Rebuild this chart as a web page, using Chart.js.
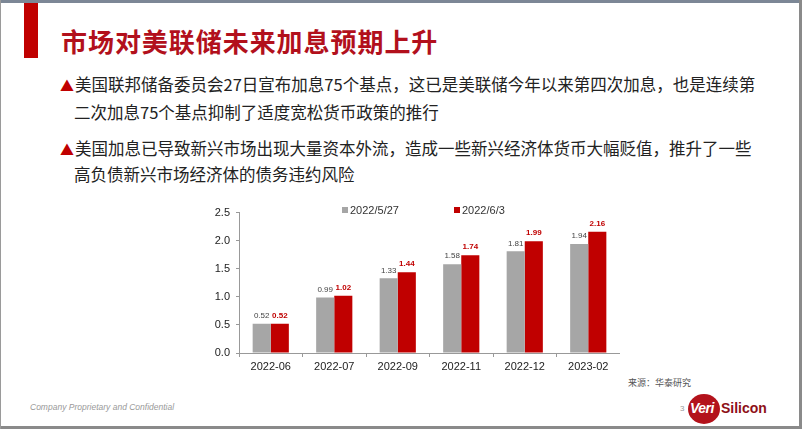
<!DOCTYPE html>
<html><head><meta charset="utf-8">
<script src="https://cdn.jsdelivr.net/npm/chart.js@4/dist/chart.umd.min.js"></script>
<style>
html,body{margin:0;padding:0;background:#fff;}
#slide{position:relative;width:802px;height:429px;overflow:hidden;background:#fff;font-family:"Noto Sans CJK SC","Noto Sans",sans-serif;}
.frameT{position:absolute;left:0;top:0;width:802px;height:3px;background:#7c8796;}
.frameB{position:absolute;left:0;top:426px;width:802px;height:3px;background:#8a8a8a;}
.frameL{position:absolute;left:0;top:0;width:1px;height:429px;background:#9a9a9a;}
.frameR{position:absolute;left:799px;top:0;width:3px;height:429px;background:#8a8a8a;}
.redbar{position:absolute;left:24px;top:3px;width:14px;height:55px;background:#c00000;}
.title{position:absolute;left:61px;top:22px;font-size:26px;font-weight:bold;color:#b2101c;letter-spacing:0.95px;white-space:nowrap;}
.line{position:absolute;font-size:16.5px;color:#222;white-space:nowrap;line-height:20px;}
.tri{color:#c00000;font-size:14px;margin-right:1px;}
#chartbox{position:absolute;left:180px;top:200px;width:440px;height:180px;}
.leg{position:absolute;font-family:"Liberation Sans",Arial,sans-serif;font-size:11px;color:#333;white-space:nowrap;}
.sq{display:inline-block;width:6px;height:6px;margin-right:2px;vertical-align:1px;}
.src{position:absolute;left:628px;top:376px;font-size:9px;color:#555;}
.conf{position:absolute;left:30px;top:402px;font-family:"Liberation Sans",Arial,sans-serif;font-size:8.5px;font-style:italic;color:#999;}
.pg{position:absolute;left:680px;top:404px;font-family:"Liberation Sans",Arial,sans-serif;font-size:8px;color:#999;}
.logo{position:absolute;left:688px;top:391px;width:80px;height:34px;}
.circ{position:absolute;left:0;top:3px;width:32px;height:30px;border-radius:50%;background:#b3121b;}
.veri{position:absolute;left:2px;top:9px;font-family:"Liberation Sans",Arial,sans-serif;font-weight:bold;font-size:14px;color:#fff;font-style:italic;letter-spacing:-0.5px;}
.sil{position:absolute;left:33px;top:9px;font-family:"Liberation Sans",Arial,sans-serif;font-weight:bold;font-size:14px;color:#8e1018;}
</style></head>
<body>
<div id="slide">
  <div class="frameT"></div><div class="frameB"></div><div class="frameL"></div><div class="frameR"></div>
  <div class="redbar"></div>
  <div class="title">市场对美联储未来加息预期上升</div>
  <div class="line" style="left:60px;top:74px;"><span class="tri">▲</span>美国联邦储备委员会27日宣布加息75个基点，这已是美联储今年以来第四次加息，也是连续第</div>
  <div class="line" style="left:74px;top:102px;">二次加息75个基点抑制了适度宽松货币政策的推行</div>
  <div class="line" style="left:60px;top:138px;"><span class="tri">▲</span>美国加息已导致新兴市场出现大量资本外流，造成一些新兴经济体货币大幅贬值，推升了一些</div>
  <div class="line" style="left:74px;top:164px;">高负债新兴市场经济体的债务违约风险</div>
  <div id="chartbox"><canvas id="c" width="440" height="180"></canvas></div>
  <div class="leg" style="left:342px;top:204px;"><span class="sq" style="background:#a6a6a6"></span>2022/5/27</div>
  <div class="leg" style="left:454px;top:204px;"><span class="sq" style="background:#c00000"></span>2022/6/3</div>
  <div class="src">来源：华泰研究</div>
  <div class="conf">Company Proprietary and Confidential</div>
  <div class="pg">3</div>
  <div class="logo"><div class="circ"></div><div class="veri">Veri</div><div class="sil">Silicon</div></div>
</div>
<script>
const categories = ["2022-06","2022-07","2022-09","2022-11","2022-12","2023-02"];
const series1Name = "2022/5/27";
const series1 = [0.52, 0.99, 1.33, 1.58, 1.81, 1.94];
const series2Name = "2022/6/3";
const series2 = [0.52, 1.02, 1.44, 1.74, 1.99, 2.16];
const yTicks = [0, 0.5, 1.0, 1.5, 2.0, 2.5];

const labelPlugin = {
  id: 'valLabels',
  afterDatasetsDraw(chart) {
    const ctx = chart.ctx;
    ctx.save();
    ctx.textAlign = 'center';
    ctx.textBaseline = 'bottom';
    chart.data.datasets.forEach((ds, i) => {
      const meta = chart.getDatasetMeta(i);
      meta.data.forEach((bar, j) => {
        if (i === 0) { ctx.fillStyle = '#444'; ctx.font = '8px "Liberation Sans", Arial, sans-serif'; }
        else { ctx.fillStyle = '#c00000'; ctx.font = 'bold 8px "Liberation Sans", Arial, sans-serif'; }
        ctx.fillText(ds.data[j].toFixed(2), bar.x, bar.y - 4);
      });
    });
    ctx.restore();
  }
};

new Chart(document.getElementById('c'), {
  type: 'bar',
  data: {
    labels: categories,
    datasets: [
      { label: series1Name, data: series1, backgroundColor: '#a6a6a6', categoryPercentage: 0.57, barPercentage: 1.0 },
      { label: series2Name, data: series2, backgroundColor: '#c00000', categoryPercentage: 0.57, barPercentage: 1.0 }
    ]
  },
  options: {
    responsive: false,
    animation: false,
    devicePixelRatio: 1,
    layout: { padding: { top: 11, right: 0, left: 0, bottom: 0 } },
    plugins: { legend: { display: false }, tooltip: { enabled: false } },
    scales: {
      x: {
        grid: { display: true, drawOnChartArea: false, offset: true, color: '#999', tickLength: 4 },
        border: { color: '#999' },
        ticks: { color: '#222', font: { family: '"Liberation Sans", Arial, sans-serif', size: 11 }, padding: 3, maxRotation: 0 },
        afterFit(s) { s.height = 27; }
      },
      y: {
        min: 0, max: 2.5,
        afterBuildTicks(s) { s.ticks = yTicks.map(v => ({ value: v })); },
        grid: { display: true, drawOnChartArea: false, color: '#999', tickLength: 3 },
        border: { color: '#999' },
        ticks: { color: '#222', font: { family: '"Liberation Sans", Arial, sans-serif', size: 11 }, padding: 6, callback: v => Number(v).toFixed(1) },
        afterFit(s) { s.width = 59; }
      }
    }
  },
  plugins: [labelPlugin]
});
</script>
</body></html>
